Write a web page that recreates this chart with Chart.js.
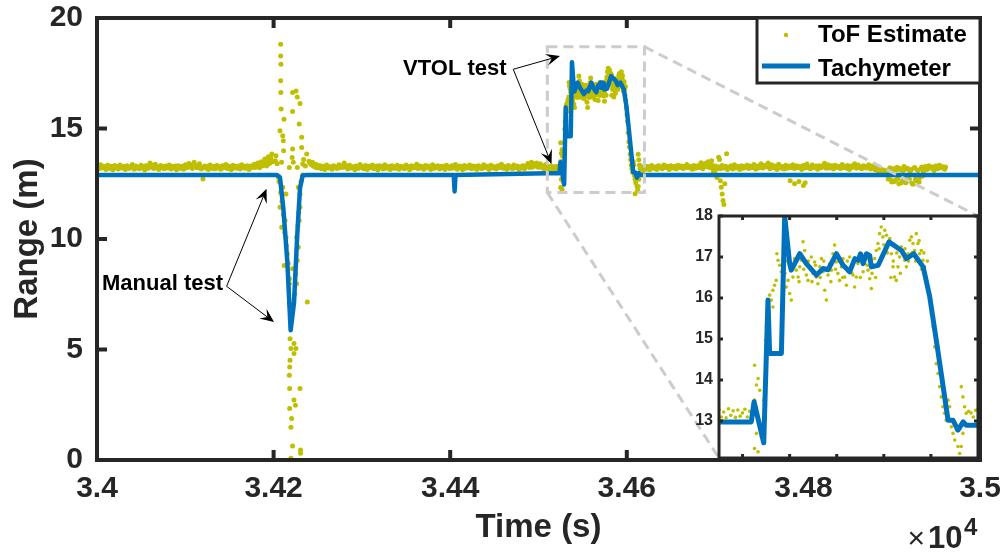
<!DOCTYPE html>
<html>
<head>
<meta charset="utf-8">
<title>ToF range vs tachymeter</title>
<script src="https://cdn.jsdelivr.net/npm/chart.js@4.4.1/dist/chart.umd.min.js"></script>
<style>
  html, body { margin: 0; padding: 0; background: #fff; }
  #wrap { position: relative; width: 1005px; height: 554px; }
  #mainChart { position: absolute; left: 0; top: 0; }
  #insetChart { position: absolute; left: 690px; top: 205px; }
</style>
</head>
<body>
<div id="wrap">
  <canvas id="mainChart" width="1005" height="554"></canvas>
  <canvas id="insetChart" width="300" height="263"></canvas>
</div>
<script>
// Axis ticks and limits
const xTicks = [34000, 34200, 34400, 34600, 34800, 35000];
const xTickLabels = ['3.4', '3.42', '3.44', '3.46', '3.48', '3.5'];
const yTicks = [0, 5, 10, 15, 20];
const insetXRange = [34510, 34620];
const insetYRange = [12.1, 18];
const insetXTicks = [34520, 34540, 34560, 34580, 34600];
const insetYTicks = [13, 14, 15, 16, 17, 18];
const zoomBoxX = [34510, 34620];
const zoomBoxY = [12.1, 18.7];

// Tachymeter reference range (s, m)
const tachTime = [34000, 34203.5, 34207.2, 34211, 34215.5, 34219.3, 34223.1, 34226.8, 34229.9, 34232.9,
  34237.5, 34404, 34405, 34406, 34510, 34523.7, 34524.9, 34529, 34530.8, 34531.5,
  34536.5, 34537.9, 34540, 34540.7, 34544.3, 34547.1, 34551.4, 34554.2, 34556.3, 34559.9,
  34562.7, 34565.5, 34567.7, 34569.1, 34570.1, 34571.2, 34572.6, 34574, 34574.7, 34577.6,
  34582.2, 34587.5, 34589.6, 34592.7, 34596.7, 34599.5, 34602.3, 34605.2, 34607.3, 34609.4,
  34611.5, 34613.7, 34615, 34620, 35000];
const tachRange = [12.9, 12.9, 12.79, 11.4, 9.0, 5.87, 7.1, 10.2, 12.3, 12.87,
  12.9, 12.9, 12.15, 12.9, 12.98, 12.98, 13.47, 12.47, 15.95, 14.65,
  14.65, 18.0, 16.84, 16.68, 17.08, 16.84, 16.56, 16.72, 16.69, 17.08,
  16.8, 16.64, 16.96, 16.92, 17.08, 16.84, 17.08, 17.04, 16.76, 16.8,
  17.37, 17.16, 16.96, 17.08, 16.76, 16.03, 14.97, 13.84, 13.02, 13.02,
  12.78, 12.98, 12.9, 12.9, 12.9];

// ToF estimates logged every tofPeriod seconds during the static stretches,
// two interleaved passes per stretch
const tofPeriod = 2;
const tofBandStart = [34000, 34240, 34616];
const tofBandStart2 = [34001, 34241, 34617];
const tofBandA = [
  13.31, 13.18, 13.36, 13.22, 13.27, 13.15, 13.34, 13.2, 13.29, 13.13,
  13.33, 13.24, 13.17, 13.35, 13.21, 13.28, 13.14, 13.32, 13.19, 13.26,
  13.37, 13.16, 13.3, 13.23, 13.18, 13.34, 13.25, 13.12, 13.31, 13.2,
  13.44, 13.27, 13.19, 13.38, 13.22, 13.15, 13.33, 13.26, 13.18, 13.3,
  13.21, 13.35, 13.17, 13.28, 13.24, 13.13, 13.32, 13.2, 13.29, 13.16,
  13.36, 13.23, 13.42, 13.27, 13.19, 13.47, 13.31, 13.22, 13.4, 13.17,
  12.72, 13.3, 13.24, 13.14, 13.35, 13.2, 13.28, 13.18, 13.33, 13.25,
  13.16, 13.31, 13.22, 13.37, 13.19, 13.27, 13.13, 13.34, 13.21, 13.29,
  13.24, 13.17, 13.36, 13.26, 13.2, 13.32, 13.15, 13.3, 13.23, 13.38,
  13.28, 13.44, 13.22, 13.5, 13.36, 13.62, 13.3, 13.72, 13.45, 13.85];
const tofBandA2 = [
  13.24, 13.27, 13.21, 13.29, 13.23, 13.26, 13.2, 13.28, 13.25, 13.22,
  13.27, 13.2, 13.3, 13.24, 13.26, 13.21, 13.28, 13.23, 13.25, 13.29,
  13.22, 13.27, 13.24, 13.2, 13.28, 13.23, 13.26, 13.3, 13.21, 13.25,
  13.36, 13.3, 13.24, 13.27, 13.21, 13.28, 13.25, 13.22, 13.29, 13.24,
  13.26, 13.2, 13.27, 13.23, 13.3, 13.25, 13.21, 13.28, 13.24, 13.26,
  13.22, 13.29, 13.33, 13.25, 13.38, 13.3, 13.24, 13.35, 13.27, 13.22,
  13.26, 13.21, 13.29, 13.24, 13.27, 13.2, 13.25, 13.3, 13.23, 13.26,
  13.28, 13.22, 13.25, 13.21, 13.29, 13.24, 13.27, 13.23, 13.26, 13.2,
  13.3, 13.25, 13.22, 13.28, 13.24, 13.27, 13.21, 13.26, 13.29, 13.24,
  13.32, 13.27, 13.38, 13.3, 13.45, 13.34, 13.55, 13.4, 13.66, 13.5];
const tofBandB = [
  13.52, 13.41, 13.47, 13.3, 13.38, 13.22, 13.33, 13.18, 13.29, 13.14,
  13.35, 13.21, 13.27, 13.16, 13.32, 13.24, 13.19, 13.36, 13.23, 13.28,
  13.44, 13.31, 13.17, 13.34, 13.22, 13.26, 13.13, 13.3, 13.2, 13.37,
  13.25, 13.18, 13.33, 13.15, 13.29, 13.22, 13.35, 13.19, 13.27, 13.12,
  13.31, 13.24, 13.17, 13.36, 13.21, 13.28, 13.14, 13.32, 13.2, 13.26,
  13.34, 13.16, 13.29, 13.23, 13.18, 13.35, 13.25, 13.13, 13.31, 13.21,
  13.27, 13.38, 13.19, 13.3, 13.24, 13.16, 13.33, 13.22, 13.28, 13.15,
  13.36, 13.2, 13.26, 13.32, 13.17, 13.29, 13.23, 13.14, 13.34, 13.25,
  13.19, 13.31, 13.21, 13.37, 13.16, 13.28, 13.24, 13.13, 13.33, 13.2,
  13.27, 13.35, 13.18, 13.3, 13.22, 13.15, 13.32, 13.26, 13.19, 13.36,
  13.23, 13.29, 13.14, 13.34, 13.21, 13.27, 13.17, 13.31, 13.25, 13.38,
  13.2, 13.28, 13.16, 13.33, 13.24, 13.19, 13.35, 13.22, 13.3, 13.15,
  13.26, 13.32, 13.18, 13.29, 13.42, 13.23, 13.47, 13.3, 13.36, 13.44,
  13.25, 13.4, 13.31, 13.18, 13.37];
const tofBandB2 = [
  13.45, 13.36, 13.3, 13.26, 13.22, 13.28, 13.24, 13.27, 13.21, 13.26,
  13.29, 13.23, 13.25, 13.2, 13.28, 13.24, 13.27, 13.22, 13.3, 13.25,
  13.33, 13.24, 13.28, 13.21, 13.27, 13.23, 13.29, 13.25, 13.22, 13.28,
  13.24, 13.26, 13.21, 13.29, 13.23, 13.27, 13.2, 13.25, 13.3, 13.24,
  13.22, 13.28, 13.25, 13.21, 13.27, 13.24, 13.29, 13.23, 13.26, 13.2,
  13.28, 13.25, 13.22, 13.27, 13.24, 13.3, 13.21, 13.26, 13.23, 13.28,
  13.25, 13.2, 13.29, 13.24, 13.27, 13.22, 13.26, 13.3, 13.23, 13.25,
  13.21, 13.28, 13.24, 13.27, 13.22, 13.26, 13.29, 13.23, 13.25, 13.2,
  13.28, 13.24, 13.27, 13.21, 13.26, 13.3, 13.23, 13.25, 13.22, 13.28,
  13.24, 13.27, 13.21, 13.26, 13.29, 13.23, 13.25, 13.2, 13.28, 13.24,
  13.27, 13.22, 13.26, 13.3, 13.23, 13.25, 13.21, 13.28, 13.24, 13.27,
  13.22, 13.26, 13.29, 13.23, 13.25, 13.2, 13.28, 13.24, 13.27, 13.22,
  13.26, 13.3, 13.23, 13.33, 13.28, 13.36, 13.25, 13.4, 13.3, 13.27,
  13.33, 13.25, 13.29, 13.24, 13.3];
const tofBandC = [
  13.24, 13.1, 13.3, 13.16, 13.27, 13.13, 13.33, 13.2, 13.26, 13.15,
  13.31, 13.22, 13.18, 13.35, 13.24, 13.29, 13.14, 13.32, 13.21, 13.27,
  13.17, 13.34, 13.23, 13.3, 13.19, 13.26, 13.37, 13.22, 13.28, 13.16,
  13.33, 13.2, 13.29, 13.24, 13.45, 13.18, 13.38, 13.27, 13.5, 13.22,
  13.35, 13.1, 13.3, 12.9, 13.26, 13.18, 13.33, 13.21, 13.29, 13.15,
  13.24, 13.31, 13.17, 13.36, 13.22, 13.28, 13.14, 13.32, 13.2, 13.26,
  13.34, 13.19, 13.29, 13.23, 13.37, 13.16, 13.3, 13.25, 13.41, 13.21,
  13.33, 13.27, 13.44, 13.18, 13.36, 13.24, 13.3, 13.15, 13.38, 13.22,
  13.28, 13.17, 13.34, 13.2, 13.29, 13.25, 13.36, 13.19, 13.31, 13.23,
  13.27, 13.14, 13.33, 13.21, 13.39, 13.26, 13.18, 13.35, 13.24, 13.3,
  13.16, 13.32, 13.22, 13.28, 13.43, 13.2, 13.36, 13.25, 13.31, 13.17,
  13.34, 13.23, 13.29, 13.19, 13.37, 13.26, 13.21, 13.33, 13.15, 13.3,
  13.27, 13.41, 13.2, 13.35, 13.24, 13.18, 13.32, 13.28, 13.22, 13.36,
  13.17, 13.3, 13.25, 13.12, 13.21, 13.06, 13.15, 12.98, 13.1, 12.92,
  12.72, 13.22, 12.58, 13.18, 12.66, 13.25, 12.5, 13.12, 12.62, 13.28,
  12.55, 13.2, 12.7, 13.15, 12.48, 13.24, 12.64, 13.1, 12.78, 13.26,
  13.05, 13.28, 13.15, 13.32, 13.2, 13.26, 13.1, 13.3, 13.18, 13.34,
  13.22, 13.27, 13.16];
const tofBandC2 = [
  13.2, 13.26, 13.22, 13.28, 13.24, 13.21, 13.27, 13.25, 13.22, 13.29,
  13.24, 13.26, 13.21, 13.28, 13.23, 13.25, 13.2, 13.27, 13.24, 13.29,
  13.22, 13.26, 13.25, 13.21, 13.28, 13.24, 13.3, 13.23, 13.26, 13.2,
  13.27, 13.24, 13.32, 13.26, 13.38, 13.28, 13.42, 13.3, 13.35, 13.25,
  13.22, 13.06, 13.15, 13.26, 13.2, 13.27, 13.23, 13.28, 13.25, 13.21,
  13.27, 13.24, 13.29, 13.22, 13.26, 13.2, 13.28, 13.24, 13.27, 13.23,
  13.25, 13.3, 13.22, 13.27, 13.24, 13.28, 13.21, 13.26, 13.33, 13.25,
  13.29, 13.36, 13.27, 13.24, 13.3, 13.22, 13.26, 13.28, 13.24, 13.21,
  13.27, 13.25, 13.22, 13.29, 13.24, 13.27, 13.21, 13.26, 13.23, 13.28,
  13.25, 13.22, 13.27, 13.3, 13.24, 13.21, 13.28, 13.26, 13.23, 13.29,
  13.25, 13.22, 13.27, 13.35, 13.24, 13.29, 13.21, 13.26, 13.28, 13.23,
  13.27, 13.25, 13.22, 13.3, 13.24, 13.26, 13.21, 13.28, 13.25, 13.23,
  13.33, 13.27, 13.24, 13.29, 13.22, 13.26, 13.25, 13.21, 13.28, 13.24,
  13.2, 13.25, 13.14, 13.22, 13.08, 13.18, 13.02, 13.12, 12.95, 13.05,
  13.15, 12.68, 13.08, 12.6, 13.12, 12.74, 13.2, 12.55, 13.1, 12.8,
  13.16, 12.64, 13.05, 12.52, 13.2, 12.7, 13.12, 12.58, 13.18, 12.85,
  13.2, 13.26, 13.22, 13.28, 13.24, 13.21, 13.27, 13.25, 13.23, 13.29,
  13.24, 13.2, 13.26];

// ToF estimates during the manual walk-in test (s, m)
const tofManual = [
  [34208, 18.81], [34208, 18.28], [34208.3, 17.91], [34208, 17.16], [34208.2, 16.63],
  [34225.4, 16.7], [34221.5, 16.63], [34226.8, 16.43], [34208.5, 15.88], [34221.5, 15.77],
  [34229.9, 16.13], [34211.8, 15.42], [34229, 15.2], [34207.3, 14.9], [34210.3, 14.67],
  [34211, 14.45], [34231.8, 14.6], [34221.5, 14.07], [34211.3, 13.99], [34231.8, 14.14],
  [34202.7, 13.77], [34237.5, 13.85], [34221, 13.69], [34209, 13.47], [34202, 13.54],
  [34222.3, 13.47], [34233, 13.39], [34217.8, 13.24], [34226.8, 13.24], [34205.3, 12.79],
  [34210.3, 12.34], [34214, 12.04], [34228, 12.34], [34229.9, 12.04], [34207.3, 11.44],
  [34213, 10.84], [34229.9, 11.44], [34229, 10.84], [34209.2, 10.53], [34214, 10.08],
  [34226.1, 10.08], [34228, 9.63], [34215.5, 9.33], [34212, 8.8], [34226.8, 9.03],
  [34221.5, 8.65], [34217.8, 7.98], [34226.1, 7.98], [34238.2, 7.15], [34217.8, 7.07],
  [34218.6, 5.49], [34223.1, 5.27], [34225.2, 5.04], [34219.6, 5.04], [34223.1, 4.82],
  [34218.6, 4.51], [34218.2, 4.21], [34217.8, 3.84], [34218.2, 3.24], [34229.9, 3.24],
  [34223.1, 2.71], [34224.7, 2.48], [34218.2, 2.33], [34220.4, 1.88], [34219.6, 1.48],
  [34221.5, 0.63], [34230.5, 0.45], [34230.5, 0.3], [34219.6, 0.08],
  [34206, 12.6], [34208, 12.1], [34209.5, 11.7], [34211, 11.1], [34212.5, 10.3],
  [34214.5, 9.7], [34216.5, 8.9], [34218, 8.2], [34219, 6.8], [34220, 6.4],
  [34224, 7.5], [34225, 8.4], [34227.5, 10.6], [34228.5, 11.2], [34231, 12.6],
  [34233, 12.9], [34204, 13.4], [34234, 13.6], [34236, 13.3]];

// ToF estimates during the VTOL climb and hover (s, m)
const tofVtol = [
  [34510, 13.28], [34511, 13.1], [34512, 13.22], [34513, 13.08], [34514, 13.3], [34515, 13.14],
  [34516, 13.25], [34517, 13.09], [34518, 13.27], [34519, 13.12], [34520, 13.2], [34521, 13.29],
  [34522, 13.1], [34523, 13.24],
  [34525.1, 14.36], [34526.6, 14.04], [34525.9, 13.88], [34525.1, 13.51], [34527.3, 13.75],
  [34525.9, 12.7], [34526.6, 12.25], [34525.1, 12.33], [34528, 12.62], [34529, 13.51],
  [34529.4, 14.0], [34530.1, 15.3], [34529.8, 14.97], [34531.5, 16.07], [34532.2, 15.95],
  [34532.9, 16.19], [34533.6, 16.31], [34532.9, 15.78], [34534.3, 16.43], [34535.1, 16.92],
  [34534.6, 17.08], [34535.8, 16.8], [34536.5, 16.64], [34537.2, 16.51], [34538.6, 16.27],
  [34539.3, 16.43], [34540, 16.11], [34540.7, 15.95], [34541.4, 16.51], [34540, 16.76],
  [34542.1, 16.96], [34542.8, 16.68], [34543.6, 16.51], [34544.3, 16.76], [34545, 16.92],
  [34545.7, 17.37], [34546.4, 17.16], [34547.1, 16.56], [34547.8, 16.43], [34548.5, 16.76],
  [34549.2, 17.0], [34549.9, 16.6], [34550.6, 16.88], [34551.3, 16.51], [34552, 16.35],
  [34552.8, 16.76], [34553.5, 16.96], [34554.2, 16.64], [34554.9, 16.19], [34555.6, 15.95],
  [34556.3, 16.56], [34557, 16.84], [34557.7, 16.68], [34558.4, 17.08], [34559.1, 17.29],
  [34559.8, 16.88], [34560.5, 16.6], [34561.2, 16.43], [34562, 16.76], [34562.7, 16.96],
  [34563.4, 16.51], [34564.1, 16.31], [34564.8, 16.64], [34565.5, 17.0], [34566.2, 16.76],
  [34566.9, 16.56], [34567.6, 16.27], [34568.3, 16.51], [34569, 16.84], [34569.7, 17.08],
  [34570.4, 16.92], [34571.2, 16.64], [34571.9, 16.84], [34572.6, 16.96], [34573.3, 16.68],
  [34574, 16.47], [34574.7, 16.23], [34575.4, 16.8], [34576.1, 16.96], [34576.8, 17.16],
  [34577.5, 17.33], [34578.2, 17.57], [34578.9, 17.73], [34579.6, 17.49], [34580.4, 17.65],
  [34581.1, 17.53], [34581.8, 17.33], [34582.5, 17.45], [34583.2, 17.08], [34583.9, 16.76],
  [34584.6, 16.51], [34585.3, 16.43], [34586, 16.76], [34586.7, 17.0], [34587.4, 17.25],
  [34588.1, 17.08], [34588.9, 16.92], [34589.6, 16.76], [34590.3, 17.08], [34591, 17.41],
  [34591.7, 17.49], [34592.4, 17.33], [34593.1, 17.16], [34593.8, 17.57], [34594.5, 17.33],
  [34595.2, 17.08], [34595.9, 17.16], [34596.6, 16.92], [34597.3, 16.76], [34598, 16.51],
  [34598.8, 16.27], [34599.5, 15.95], [34600.2, 15.62], [34600.9, 15.3], [34601.6, 14.81],
  [34602.3, 14.4], [34603, 14.16], [34603.7, 13.84], [34604.4, 13.59], [34605.1, 13.35],
  [34605.8, 13.19], [34606.5, 13.02], [34607.3, 13.51], [34608, 13.35], [34608.7, 12.86],
  [34609.4, 12.7], [34610.1, 12.54], [34610.8, 12.78], [34611.5, 12.38], [34612.2, 12.21],
  [34612.9, 12.38], [34609.4, 12.05], [34613.6, 12.7], [34612.9, 13.84], [34613.6, 13.59],
  [34614.3, 13.35], [34615, 13.19],
  [34538, 16.6], [34539, 16.9], [34541, 16.7], [34543, 16.9], [34544, 16.4], [34546, 16.7],
  [34548, 16.9], [34549.5, 16.4], [34551, 16.8], [34553, 16.5], [34554.5, 16.9], [34556, 16.7],
  [34557.5, 16.4], [34559.5, 16.7], [34561, 16.9], [34562.5, 16.5], [34564.5, 16.9], [34566.5, 16.6],
  [34568, 16.9], [34570, 16.5], [34571.5, 17.0], [34573, 16.8], [34575, 16.6], [34576.5, 16.5],
  [34578, 17.2], [34579, 17.0], [34580, 17.3], [34581.5, 17.1], [34583, 16.5], [34584, 16.9],
  [34585.5, 17.1], [34587, 16.6], [34589, 17.2], [34590.5, 16.9], [34592, 17.1], [34593.5, 16.9],
  [34595, 17.4], [34596, 16.7], [34597, 17.1], [34598.5, 16.9]];

// Isolated ToF outliers after the VTOL test (s, m)
const tofOutliers = [
  [34696, 13.54], [34698, 12.96], [34702, 12.78], [34704, 13.7], [34705, 13.6], [34706, 12.64],
  [34707, 12.34], [34708, 12.04], [34709, 11.74], [34710, 11.56], [34711, 12.5], [34713, 13.86],
  [34785, 12.64], [34790, 12.5], [34795, 12.6], [34800, 12.42], [34802, 12.55]];

const FONT = "'Liberation Sans', Arial, Helvetica, sans-serif";
const AXIS = '#262626';
const YELLOW = '#bfbf00';
const BLUE = '#0072bd';

function bandPoints(t0, vals) {
    return vals.map((r, i) => ({x: t0 + i * tofPeriod, y: r}));
}
function pairPoints(pairs) {
    return pairs.map(p => ({x: p[0], y: p[1]}));
}

const tofPoints = [].concat(
    bandPoints(tofBandStart[0], tofBandA),
    bandPoints(tofBandStart2[0], tofBandA2),
    bandPoints(tofBandStart[1], tofBandB),
    bandPoints(tofBandStart2[1], tofBandB2),
    bandPoints(tofBandStart[2], tofBandC),
    bandPoints(tofBandStart2[2], tofBandC2),
    pairPoints(tofManual),
    pairPoints(tofVtol),
    pairPoints(tofOutliers)
);
const tachPoints = tachTime.map((t, i) => ({x: t, y: tachRange[i]}));

// white plot background (the inset sits on top of the main axes)
const whiteArea = {
    id: 'whiteArea',
    beforeDraw(chart) {
        const a = chart.chartArea;
        chart.ctx.save();
        chart.ctx.fillStyle = '#fff';
        chart.ctx.fillRect(a.left, a.top, a.width, a.height);
        chart.ctx.restore();
    }
};

// box axes with inward ticks on all four sides
const boxAxes = {
    id: 'boxAxes',
    afterDatasetsDraw(chart, args, opts) {
        const {ctx, chartArea: a, scales: {x, y}} = chart;
        ctx.save();
        ctx.strokeStyle = opts.color;
        ctx.lineWidth = opts.width;
        ctx.beginPath();
        x.ticks.forEach(t => {
            const px = x.getPixelForValue(t.value);
            ctx.moveTo(px, a.bottom); ctx.lineTo(px, a.bottom - opts.len);
            ctx.moveTo(px, a.top); ctx.lineTo(px, a.top + opts.len);
        });
        y.ticks.forEach(t => {
            const py = y.getPixelForValue(t.value);
            ctx.moveTo(a.left, py); ctx.lineTo(a.left + opts.len, py);
            ctx.moveTo(a.right, py); ctx.lineTo(a.right - opts.len, py);
        });
        ctx.stroke();
        ctx.strokeRect(a.left, a.top, a.width, a.height);
        ctx.restore();
    }
};

const insetChart = new Chart(document.getElementById('insetChart'), {
    type: 'scatter',
    data: {
        datasets: [{
            label: 'Tachymeter',
            data: tachPoints,
            showLine: true,
            borderColor: BLUE,
            borderWidth: 5,
            borderJoinStyle: 'round',
            borderCapStyle: 'round',
            pointRadius: 0,
            clip: 0,
            order: 1
        }, {
            label: 'ToF Estimate',
            data: tofPoints,
            backgroundColor: YELLOW,
            pointRadius: 1.8,
            pointBorderWidth: 0,
            clip: 0,
            order: 2
        }]
    },
    options: {
        responsive: false,
        animation: false,
        events: [],
        layout: {padding: {top: 11, right: 12, bottom: 10, left: 0}},
        plugins: {
            legend: {display: false},
            tooltip: {enabled: false},
            boxAxes: {len: 4, width: 3, color: AXIS}
        },
        scales: {
            x: {
                type: 'linear',
                min: insetXRange[0],
                max: insetXRange[1],
                grid: {display: false, drawTicks: false},
                border: {display: false},
                ticks: {display: false},
                afterBuildTicks: s => { s.ticks = insetXTicks.map(v => ({value: v})); },
                afterFit: s => { s.height = 0; s.paddingLeft = 0; s.paddingRight = 0; }
            },
            y: {
                min: insetYRange[0],
                max: insetYRange[1],
                grid: {display: false, drawTicks: false},
                border: {display: false},
                ticks: {color: AXIS, padding: 6, font: {family: FONT, size: 16, weight: 'bold'}},
                afterBuildTicks: s => { s.ticks = insetYTicks.map(v => ({value: v})); },
                afterFit: s => { s.width = 29; s.paddingTop = 0; s.paddingBottom = 0; }
            }
        }
    },
    plugins: [whiteArea, boxAxes]
});

// dashed zoom box and its connectors to the inset corners
const zoomGuide = {
    id: 'zoomGuide',
    afterDatasetsDraw(chart) {
        const {ctx, scales: {x, y}} = chart;
        const left = x.getPixelForValue(zoomBoxX[0]), right = x.getPixelForValue(zoomBoxX[1]);
        const top = y.getPixelForValue(zoomBoxY[1]), bottom = y.getPixelForValue(zoomBoxY[0]);
        const ia = insetChart.chartArea;
        const ox = insetChart.canvas.offsetLeft, oy = insetChart.canvas.offsetTop;
        ctx.save();
        ctx.strokeStyle = '#cccccc';
        ctx.lineWidth = 3;
        ctx.setLineDash([10, 6]);
        ctx.strokeRect(left, top, right - left, bottom - top);
        ctx.beginPath();
        ctx.moveTo(left, bottom); ctx.lineTo(ox + ia.left, oy + ia.bottom);
        ctx.moveTo(right, top); ctx.lineTo(ox + ia.right, oy + ia.top);
        ctx.stroke();
        ctx.restore();
    }
};

function arrow(ctx, x0, y0, x1, y1) {
    const ang = Math.atan2(y1 - y0, x1 - x0);
    const c = Math.cos(ang), s = Math.sin(ang);
    const len = 14, half = 6;
    const bx = x1 - len * c, by = y1 - len * s;
    ctx.beginPath();
    ctx.moveTo(x0, y0);
    ctx.lineTo(x1 - 0.6 * len * c, y1 - 0.6 * len * s);
    ctx.stroke();
    ctx.beginPath();
    ctx.moveTo(x1, y1);
    ctx.lineTo(bx - half * s, by + half * c);
    ctx.lineTo(x1 - 0.6 * len * c, y1 - 0.6 * len * s);
    ctx.lineTo(bx + half * s, by - half * c);
    ctx.closePath();
    ctx.fill();
}

// text arrows, legend and the x10^4 multiplier
const notes = {
    id: 'notes',
    afterDraw(chart) {
        const {ctx, chartArea: a, scales: {x, y}} = chart;
        ctx.save();
        ctx.fillStyle = '#000';
        ctx.strokeStyle = '#000';
        ctx.lineWidth = 1;

        ctx.font = 'bold 22px ' + FONT;
        ctx.textAlign = 'right';
        ctx.textBaseline = 'middle';
        ctx.fillText('Manual test', x.getPixelForValue(34142.7), y.getPixelForValue(7.95));
        const m0 = [x.getPixelForValue(34146.8), y.getPixelForValue(7.86)];
        arrow(ctx, m0[0], m0[1], x.getPixelForValue(34192), y.getPixelForValue(12.27));
        arrow(ctx, m0[0], m0[1], x.getPixelForValue(34200.5), y.getPixelForValue(6.24));

        ctx.fillText('VTOL test', x.getPixelForValue(34463.9), y.getPixelForValue(17.68));
        const v0 = [x.getPixelForValue(34471.4), y.getPixelForValue(17.68)];
        arrow(ctx, v0[0], v0[1], x.getPixelForValue(34524.3), y.getPixelForValue(18.28));
        arrow(ctx, v0[0], v0[1], x.getPixelForValue(34514.8), y.getPixelForValue(13.39));

        // legend box in the upper right corner
        const lw = 223, lh = 65;
        const L = a.right - lw, T = a.top;
        ctx.fillStyle = '#fff';
        ctx.fillRect(L, T, lw, lh);
        ctx.strokeStyle = AXIS;
        ctx.lineWidth = 3;
        ctx.strokeRect(L, T, lw, lh);
        const ds = chart.data.datasets;
        ctx.fillStyle = YELLOW;
        ctx.beginPath();
        ctx.arc(L + 29, T + 17, 2.2, 0, Math.PI * 2);
        ctx.fill();
        ctx.strokeStyle = BLUE;
        ctx.lineWidth = 5;
        ctx.beginPath();
        ctx.moveTo(L + 5, T + 48);
        ctx.lineTo(L + 53, T + 48);
        ctx.stroke();
        ctx.fillStyle = '#000';
        ctx.font = 'bold 24px ' + FONT;
        ctx.textAlign = 'left';
        ctx.fillText(ds[1].label, L + 61, T + 17);
        ctx.fillText(ds[0].label, L + 61, T + 51);

        // x axis exponent
        ctx.fillStyle = AXIS;
        ctx.textBaseline = 'alphabetic';
        ctx.textAlign = 'right';
        ctx.font = '30px ' + FONT;
        ctx.fillText('\u00d7', a.right - 55, a.bottom + 88);
        ctx.textAlign = 'left';
        ctx.font = 'bold 31px ' + FONT;
        ctx.fillText('10', a.right - 52, a.bottom + 88);
        ctx.font = 'bold 24px ' + FONT;
        ctx.fillText('4', a.right - 16, a.bottom + 75);
        ctx.restore();
    }
};

const mainChart = new Chart(document.getElementById('mainChart'), {
    type: 'scatter',
    data: {
        datasets: [{
            label: 'Tachymeter',
            data: tachPoints,
            showLine: true,
            borderColor: BLUE,
            borderWidth: 4.5,
            borderJoinStyle: 'round',
            borderCapStyle: 'round',
            pointRadius: 0,
            clip: 0,
            order: 1
        }, {
            label: 'ToF Estimate',
            data: tofPoints,
            backgroundColor: YELLOW,
            pointRadius: 2.5,
            pointBorderWidth: 0,
            clip: 0,
            order: 2
        }]
    },
    options: {
        responsive: false,
        animation: false,
        events: [],
        layout: {padding: {top: 18, right: 25, left: 0, bottom: 0}},
        plugins: {
            legend: {display: false},
            tooltip: {enabled: false},
            boxAxes: {len: 10, width: 4, color: AXIS}
        },
        scales: {
            x: {
                type: 'linear',
                min: xTicks[0],
                max: xTicks[xTicks.length - 1],
                grid: {display: false, drawTicks: false},
                border: {display: false},
                ticks: {
                    color: AXIS,
                    padding: 11,
                    maxRotation: 0,
                    autoSkip: false,
                    font: {family: FONT, size: 30, weight: 'bold'},
                    callback: (v, i) => xTickLabels[i]
                },
                afterBuildTicks: s => { s.ticks = xTicks.map(v => ({value: v})); },
                title: {
                    display: true,
                    text: 'Time (s)',
                    color: AXIS,
                    font: {family: FONT, size: 33, weight: 'bold'},
                    padding: {top: 0, bottom: 6}
                },
                afterFit: s => { s.height = 94; s.paddingLeft = 0; s.paddingRight = 0; }
            },
            y: {
                min: yTicks[0],
                max: yTicks[yTicks.length - 1],
                grid: {display: false, drawTicks: false},
                border: {display: false},
                ticks: {color: AXIS, padding: 14, font: {family: FONT, size: 30, weight: 'bold'}},
                afterBuildTicks: s => { s.ticks = yTicks.map(v => ({value: v})); },
                title: {
                    display: true,
                    text: 'Range (m)',
                    color: AXIS,
                    font: {family: FONT, size: 33, weight: 'bold'},
                    padding: {top: 8, bottom: 0}
                },
                afterFit: s => { s.width = 97; s.paddingTop = 0; s.paddingBottom = 0; }
            }
        }
    },
    plugins: [zoomGuide, boxAxes, notes]
});
</script>
</body>
</html>
